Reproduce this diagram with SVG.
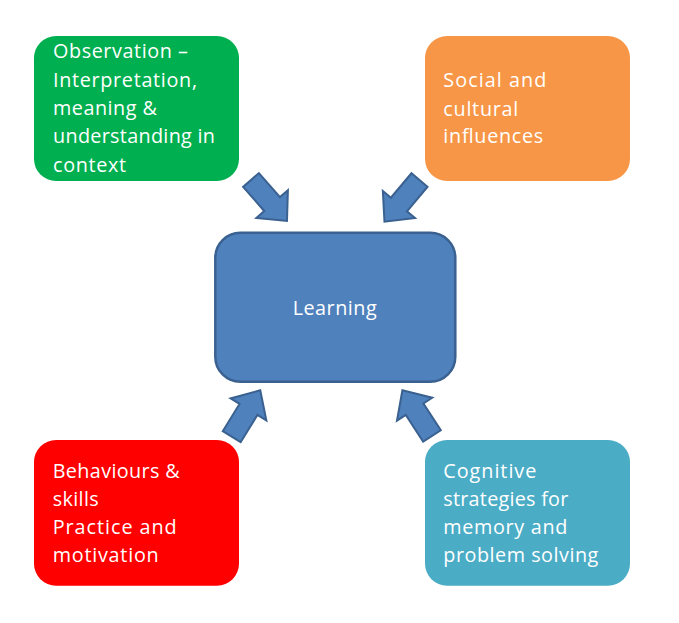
<svg xmlns="http://www.w3.org/2000/svg" width="679" height="623" viewBox="0 0 679 623">
<style>
.t{font-family:"Open Sans","Liberation Sans",Arial,sans-serif;font-size:19.8px;fill:#ffffff;}
.arrow{fill:#4F81BD;stroke:#3A6190;stroke-width:2;stroke-linejoin:miter;}
</style>
<defs>
<path id="blk" d="M0,-10.5 L32,-10.5 L32,-21 L54.5,0 L32,21 L32,10.5 L0,10.5 Z"/>
</defs>
<rect width="679" height="623" fill="#ffffff"/>
<g id="connectors">
<use href="#blk" class="arrow" transform="translate(251,180) rotate(48.7)"/>
<use href="#blk" class="arrow" transform="translate(419.5,180) rotate(130)"/>
<use href="#blk" class="arrow" transform="translate(231.7,436.7) rotate(-58.4)"/>
<use href="#blk" class="arrow" transform="translate(432,436) rotate(-122.9)"/>
</g>
<g id="observation">
<rect x="34" y="36" width="205" height="145" rx="22" fill="#00B050"/>
<text class="t" x="53" y="58.3" textLength="135">Observation –</text>
<text class="t" x="53" y="86.7" textLength="144">Interpretation,</text>
<text class="t" x="53" y="115" textLength="104">meaning &amp;</text>
<text class="t" x="53" y="143.3" textLength="162">understanding in</text>
<text class="t" x="53" y="171.7" textLength="73">context</text>
</g>
<g id="social">
<rect x="425" y="36" width="205" height="145" rx="22" fill="#F79646"/>
<text class="t" x="443.3" y="86.7" textLength="103">Social  and</text>
<text class="t" x="443.3" y="115.7" textLength="75">cultural</text>
<text class="t" x="443.3" y="143.3" textLength="100">influences</text>
</g>
<g id="learning">
<rect x="215.3" y="232.7" width="240" height="149" rx="25" fill="#4F81BD" stroke="#3A6190" stroke-width="2.5"/>
<text class="t" x="292.7" y="315" textLength="84">Learning</text>
</g>
<g id="behaviours">
<rect x="34" y="440" width="205" height="145.7" rx="22" fill="#FF0000"/>
<text class="t" x="52.7" y="477.7" textLength="127">Behaviours &amp;</text>
<text class="t" x="52.7" y="506" textLength="46">skills</text>
<text class="t" x="52.7" y="534.3" textLength="124">Practice  and</text>
<text class="t" x="52.7" y="562.3" textLength="106">motivation</text>
</g>
<g id="cognitive">
<rect x="425" y="440" width="205" height="145.7" rx="22" fill="#4BACC6"/>
<text class="t" x="443.3" y="477.7" textLength="93">Cognitive</text>
<text class="t" x="443.3" y="506" textLength="125">strategies for</text>
<text class="t" x="443.3" y="534.3" textLength="124">memory and</text>
<text class="t" x="443.3" y="562.3" textLength="155">problem solving</text>
</g>
</svg>
